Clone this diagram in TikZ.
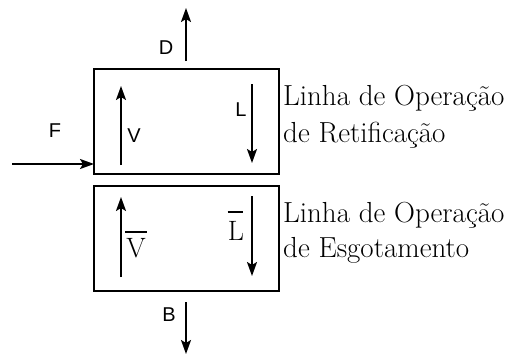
\documentclass[tikz,border=0pt]{standalone}
\usepackage{fontspec}
\newfontfamily\arialfont{Liberation Sans}
\usetikzlibrary{arrows.meta}
\begin{document}
\begin{tikzpicture}[x=1pt,y=-1pt,
  box/.style={draw,line width=2pt},
  flow/.style={line width=2pt,-{Stealth[length=14pt,width=10pt,inset=3pt]}},
  sans/.style={font=\arialfont\fontsize{20}{22}\selectfont,inner sep=0pt},
  serifl/.style={font=\fontsize{28}{30}\selectfont,inner sep=0pt},
  barline/.style={line width=1.5pt},
  desc/.style={font=\fontsize{29}{32}\selectfont,inner sep=0pt,anchor=base west}]
\useasboundingbox (0,0) rectangle (507,356);
% boxes
\draw[box] (94,69) rectangle (279,174);
\draw[box] (94,186) rectangle (279,291);
% coordinates for flows
\coordinate (Dtop) at (186,8);
\coordinate (Dbot) at (186,61);
\coordinate (Vb) at (121,165);
\coordinate (Vt) at (121,86);
\coordinate (Lt) at (252,84);
\coordinate (Lb) at (252,163);
\coordinate (Fs) at (12,164);
\coordinate (Fe) at (94,164);
\coordinate (VBb) at (121,277);
\coordinate (VBt) at (121,197);
\coordinate (LBt) at (252,196);
\coordinate (LBb) at (252,276);
\coordinate (Bt) at (186,302);
\coordinate (Bb) at (186,354);
% arrows
\draw[flow] (Dbot) -- (Dtop);
\draw[flow] (Vb) -- (Vt);
\draw[flow] (Lt) -- (Lb);
\draw[flow] (Fs) -- (Fe);
\draw[flow] (VBb) -- (VBt);
\draw[flow] (LBt) -- (LBb);
\draw[flow] (Bt) -- (Bb);
% labels
\node[sans] (D) at (166,48) {D};
\node[sans] (V) at (134,136) {V};
\node[sans] (L) at (241,110) {L};
\node[sans] (F) at (55,131) {F};
\node[sans] (B) at (169,315) {B};
\node[serifl] (Vbar) at (136,248) {V};
\draw[barline] ([xshift=-1pt,yshift=6pt]Vbar.north west) -- ([xshift=1pt,yshift=6pt]Vbar.north east);
\node[serifl] (Lbar) at (236,231) {L};
\draw[barline] ([yshift=9pt]Lbar.north west) -- ([xshift=-1pt,yshift=9pt]Lbar.north east);
% descriptions
\node[desc] (t1) at (283,105) {Linha de Operação};
\node[desc] (t2) at (283,142) {de Retificação};
\node[desc] (t3) at (283,222) {Linha de Operação};
\node[desc] (t4) at (283,257) {de Esgotamento};
\end{tikzpicture}
\end{document}
